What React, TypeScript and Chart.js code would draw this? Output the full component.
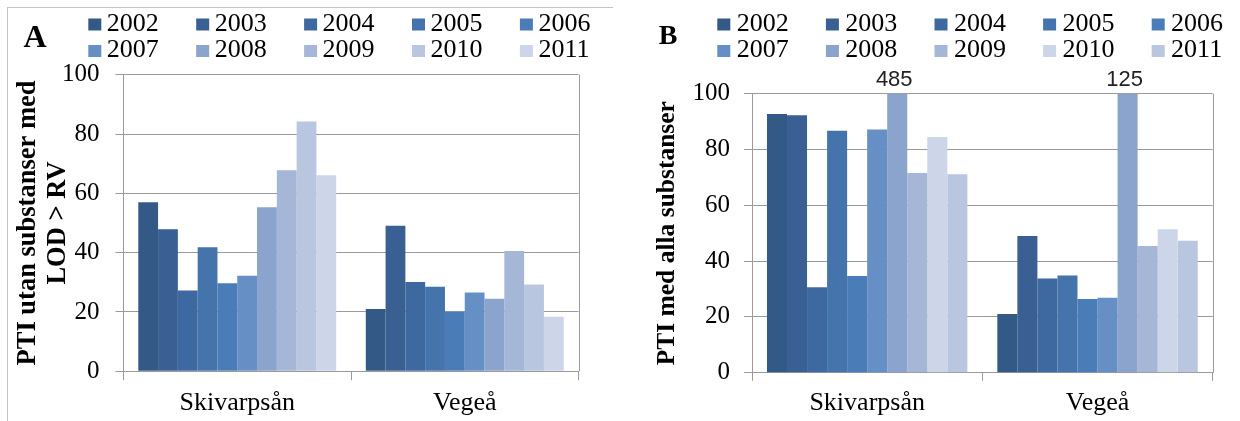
import React, { useEffect, useRef } from "react";
import { Chart, registerables } from "chart.js";

Chart.register(...registerables);

// ---------- data ----------
const categories = ["Skivarpsån", "Vegeå"];
const years = ["2002", "2003", "2004", "2005", "2006", "2007", "2008", "2009", "2010", "2011"];
const yTickValues = [0, 20, 40, 60, 80, 100];

// Panel A: PTI utan substanser med LOD > RV
const skivarpsanA = [57.0, 47.9, 27.2, 41.8, 29.7, 32.2, 55.3, 67.8, 84.2, 66.1];
const vegeaA = [21.0, 49.1, 30.1, 28.5, 20.1, 26.6, 24.5, 40.6, 29.3, 18.4];

// Panel B: PTI med alla substanser
const skivarpsanB = [92.7, 92.3, 30.6, 86.7, 34.7, 87.2, 485, 71.6, 84.5, 71.1];
const vegeaB = [21.0, 49.0, 33.8, 34.8, 26.4, 26.9, 125, 45.4, 51.4, 47.3];

const colorsA = ["#335a87", "#3a5f92", "#3e69a0", "#4573ab", "#4a7cb8", "#668fc5", "#8aa4cd", "#a5b6d7", "#b9c6e0", "#ccd6e8"];
const colorsB = ["#335a87", "#3a5f92", "#3e69a0", "#4573ab", "#4a7cb8", "#668fc5", "#8aa4cd", "#a5b6d7", "#ccd6e8", "#b9c6e0"];

const titleA = ["PTI utan substanser med", "LOD > RV"];
const titleB = "PTI med alla substanser";

const GRID = "#9a9a9a";
const SERIF = "'Liberation Serif', 'Times New Roman', serif";

// ---------- plugins ----------
const gridLegend = {
  id: "gridLegend",
  afterDraw(chart: any, _a: any, o: any) {
    const ctx = chart.ctx;
    ctx.save();
    chart.data.datasets.forEach((ds: any, i: number) => {
      const col = i % o.cols;
      const row = Math.floor(i / o.cols);
      const x = o.x + col * o.colStride;
      const yMid = o.y + row * o.rowStride;
      ctx.fillStyle = ds.backgroundColor;
      ctx.fillRect(x, yMid - o.boxH / 2, o.boxW, o.boxH);
      ctx.fillStyle = "#000";
      ctx.font = o.font;
      ctx.textBaseline = "middle";
      ctx.textAlign = "left";
      ctx.fillText(ds.label, x + o.textGap, yMid - 0.5);
    });
    ctx.font = o.letterFont;
    ctx.textAlign = "center";
    ctx.textBaseline = "middle";
    ctx.fillStyle = "#000";
    ctx.fillText(o.letter, o.letterX, o.letterY);
    ctx.restore();
  },
};

const plotFrame = {
  id: "plotFrame",
  afterDraw(chart: any) {
    const { ctx, chartArea } = chart;
    ctx.save();
    ctx.strokeStyle = GRID;
    ctx.lineWidth = 1;
    const x = Math.round(chartArea.right) + 0.5;
    ctx.beginPath();
    ctx.moveTo(x, chartArea.top);
    ctx.lineTo(x, chartArea.bottom);
    ctx.stroke();
    ctx.restore();
  },
};

const overflowLabels = {
  id: "overflowLabels",
  afterDatasetsDraw(chart: any) {
    const { ctx, chartArea } = chart;
    const max = chart.scales.y.max;
    ctx.save();
    ctx.font = "22px 'Liberation Sans', Arial, sans-serif";
    ctx.fillStyle = "#222";
    ctx.textAlign = "center";
    ctx.textBaseline = "middle";
    chart.data.datasets.forEach((ds: any, di: number) => {
      const meta = chart.getDatasetMeta(di);
      ds.data.forEach((v: number, idx: number) => {
        if (v > max) {
          const el = meta.data[idx];
          ctx.fillText(String(v), el.x - 3, chartArea.top - 14);
        }
      });
    });
    ctx.restore();
  },
};

// ---------- config ----------
function makeConfig(p: any) {
  const datasets = years.map((yr, i) => ({
    label: yr,
    data: [p.s[i], p.v[i]],
    backgroundColor: p.colors[i],
    borderWidth: 0,
    categoryPercentage: 0.87,
    barPercentage: 1,
    clip: 0,
  }));
  return {
    type: "bar" as const,
    data: { labels: categories, datasets },
    plugins: [gridLegend, plotFrame, overflowLabels],
    options: {
      responsive: false,
      animation: false,
      devicePixelRatio: 1,
      layout: { padding: { top: p.top, right: p.right, bottom: 0, left: 0 } },
      plugins: {
        legend: { display: false },
        tooltip: { enabled: false },
        gridLegend: p.legend,
      },
      scales: {
        x: {
          offset: true,
          ticks: { font: { family: SERIF, size: 26 }, color: "#000", padding: 7 },
          grid: { display: true, drawOnChartArea: false, tickLength: p.xTick, color: GRID, offset: true },
          border: { display: true, color: GRID },
          afterFit: (s: any) => { s.height = p.xHeight; },
        },
        y: {
          min: 0,
          max: 100,
          afterBuildTicks: (s: any) => { s.ticks = yTickValues.map((v) => ({ value: v })); },
          ticks: { font: { family: SERIF, size: 25 }, color: "#000", padding: p.yPad },
          grid: { color: GRID, tickLength: 8, lineWidth: 1 },
          border: { display: true, color: GRID },
          title: {
            display: true,
            text: p.title,
            color: "#000",
            font: { family: SERIF, size: p.titleSize, weight: "bold", lineHeight: p.titleLH },
            padding: { top: p.titlePad, bottom: 0 },
          },
          afterFit: (s: any) => { s.width = p.yWidth; },
        },
      },
    },
  };
}

function BarPanel(props: { cfg: any; left: number }) {
  const ref = useRef<HTMLCanvasElement | null>(null);
  useEffect(() => {
    if (!ref.current) return;
    const chart = new Chart(ref.current, props.cfg);
    return () => chart.destroy();
  }, []);
  return (
    <div style={{ position: "absolute", left: props.left, top: 0, width: 620, height: 421 }}>
      <canvas ref={ref} width={620} height={421} style={{ width: 620, height: 421, display: "block" }} />
    </div>
  );
}

export default function App() {
  const cfgA = makeConfig({
    s: skivarpsanA,
    v: vegeaA,
    colors: colorsA,
    top: 74.7,
    right: 620 - 578.5,
    xHeight: 421 - 371.3,
    xTick: 9,
    yWidth: 123.5,
    yPad: 16,
    title: titleA,
    titleSize: 26.5,
    titleLH: 1.13,
    titlePad: 13,
    legend: {
      x: 88.3, y: 24.5, cols: 5, colStride: 107.9, rowStride: 26.5,
      boxW: 13, boxH: 12, textGap: 18.5,
      font: `26px ${SERIF}`,
      letter: "A", letterX: 35, letterY: 39, letterFont: `bold 32px ${SERIF}`,
    },
  });
  const cfgB = makeConfig({
    s: skivarpsanB,
    v: vegeaB,
    colors: colorsB,
    top: 93.7,
    right: 620 - 592.7,
    xHeight: 421 - 372.7,
    xTick: 8,
    yWidth: 132,
    yPad: 14,
    title: titleB,
    titleSize: 25.5,
    titleLH: 1.2,
    titlePad: 32,
    legend: {
      x: 97.3, y: 24.5, cols: 5, colStride: 108.6, rowStride: 26.5,
      boxW: 13, boxH: 12, textGap: 19.4,
      font: `26px ${SERIF}`,
      letter: "B", letterX: 48, letterY: 37, letterFont: `bold 28px ${SERIF}`,
    },
  });
  return (
    <div style={{ position: "absolute", left: 0, top: 0, width: 1240, height: 421, background: "#fff", overflow: "hidden" }}>
      <div
        style={{
          position: "absolute",
          left: 7,
          top: 7,
          width: 606,
          height: 414,
          borderLeft: "1px solid #c4c4c4",
          borderTop: "1px solid #c4c4c4",
          boxSizing: "border-box",
        }}
      />
      <BarPanel cfg={cfgA} left={0} />
      <BarPanel cfg={cfgB} left={620} />
    </div>
  );
}
